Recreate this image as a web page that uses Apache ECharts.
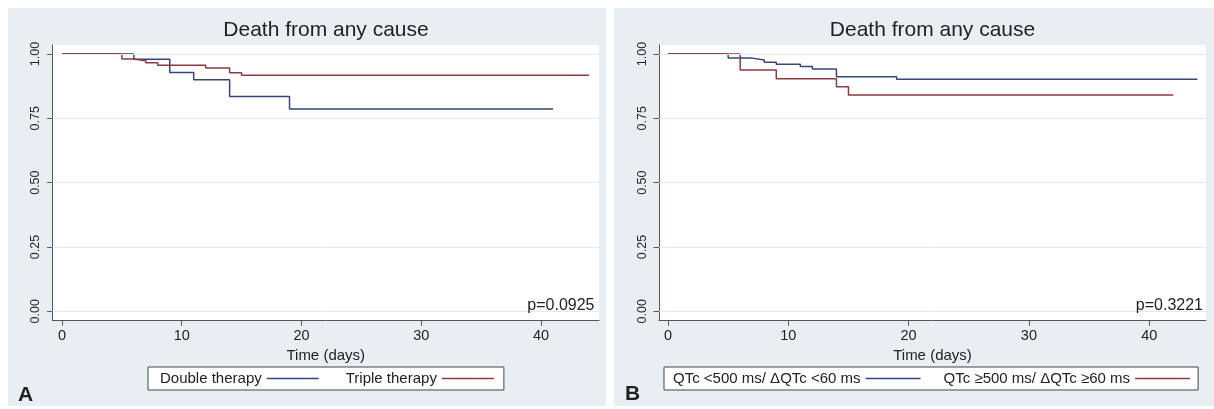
<!DOCTYPE html>
<html>
<head>
<meta charset="utf-8">
<script src="https://cdn.jsdelivr.net/npm/echarts@6/dist/echarts.min.js"></script>
<style>
html,body{margin:0;padding:0;background:#fff;}
#c{width:1214px;height:409px;}
</style>
</head>
<body>
<div id="c"></div>
<script>
// ---- data ----
const panelTitle = 'Death from any cause';
const xTicks = [0, 10, 20, 30, 40];
const yTicks = [0, 0.25, 0.5, 0.75, 1];
const yTickLabels = ['0.00', '0.25', '0.50', '0.75', '1.00'];

// Panel A
const nameA1 = 'Double therapy';
const daysA1 = [0, 6, 9, 11, 14, 19, 41];
const survA1 = [1.000, 0.980, 0.928, 0.900, 0.835, 0.786, 0.786];
const nameA2 = 'Triple therapy';
const daysA2 = [0, 5, 6, 7, 8, 12, 14, 15, 44];
const survA2 = [1.000, 0.981, 0.974, 0.966, 0.956, 0.946, 0.927, 0.917, 0.917];
const pA = 'p=0.0925';

// Panel B
const nameB1 = 'QTc <500 ms/ ΔQTc <60 ms';
const daysB1 = [0, 5, 7, 8, 9, 11, 12, 14, 19, 44];
const survB1 = [1.000, 0.984, 0.977, 0.968, 0.960, 0.951, 0.942, 0.912, 0.902, 0.902];
const nameB2 = 'QTc ≥500 ms/ ΔQTc ≥60 ms';
const daysB2 = [0, 6, 9, 14, 15, 42];
const survB2 = [1.000, 0.938, 0.904, 0.873, 0.841, 0.841];
const pB = 'p=0.3221';

// ---- styling ----
const FONT = '"Liberation Sans", Arial, Helvetica, sans-serif';
const BLUE = '#37457c';
const RED = '#8e3a3f';
const AXIS = '#555';
const GRIDLINE = '#e3eaed';
const PANEL = '#e8eef1';
const TEXT = '#222';

const pairs = (xs, ys) => xs.map((x, i) => [x, ys[i]]);

function xAxisFor(idx, min, max) {
  return {
    type: 'value', gridIndex: idx, min: min, max: max,
    name: 'Time (days)', nameLocation: 'middle', nameGap: 20,
    nameTextStyle: {fontSize: 15, color: TEXT, fontFamily: FONT},
    axisLine: {show: true, onZero: false, lineStyle: {color: AXIS, width: 1}},
    axisTick: {show: true, length: 5, customValues: xTicks, lineStyle: {color: AXIS}},
    axisLabel: {customValues: xTicks, fontSize: 14.5, color: TEXT, fontFamily: FONT, margin: 8},
    splitLine: {show: false}
  };
}
function yAxisFor(idx) {
  return {
    type: 'value', gridIndex: idx, min: -0.0365, max: 1.035,
    axisLine: {show: true, onZero: false, lineStyle: {color: AXIS, width: 1}},
    axisTick: {show: true, length: 5.5, customValues: yTicks, lineStyle: {color: AXIS}},
    axisLabel: {customValues: yTicks, rotate: 90, fontSize: 12.5, color: TEXT, fontFamily: FONT, margin: 10,
      formatter: v => yTickLabels[yTicks.indexOf(Math.round(v * 100) / 100)] ?? ''},
    splitLine: {show: false}
  };
}
function gridLinesSeries(idx) {
  return {
    type: 'line', xAxisIndex: idx, yAxisIndex: idx, data: [], z: 1, silent: true,
    markLine: {silent: true, symbol: 'none', label: {show: false}, animation: false,
      lineStyle: {color: GRIDLINE, width: 1, type: 'solid'},
      emphasis: {disabled: true},
      data: yTicks.map(v => ({yAxis: v}))}
  };
}
function kmSeries(idx, name, xs, ys, color) {
  return {
    type: 'line', name: name, xAxisIndex: idx, yAxisIndex: idx, step: 'end',
    data: pairs(xs, ys), symbol: 'none', showSymbol: false, z: 3,
    lineStyle: {color: color, width: 1.5}, itemStyle: {color: color},
    emphasis: {disabled: true}, animation: false
  };
}
function legendFor(names, left, width, gap, padding) {
  return {
    data: names, left: left, top: 367, orient: 'horizontal', align: 'right',
    icon: 'rect', itemWidth: width, itemHeight: 1.3, itemGap: gap, padding: padding,
    borderColor: '#444', borderWidth: 1, backgroundColor: '#fff', borderRadius: 0,
    selectedMode: false,
    textStyle: {fontSize: 15, color: TEXT, fontFamily: FONT}
  };
}
function txt(text, x, y, size, align, weight) {
  return {type: 'text', x: x, y: y, z: 100, silent: true,
    style: {text: text, fill: TEXT, fontSize: size, fontFamily: FONT, fontWeight: weight || 'normal',
      align: align, textAlign: align, verticalAlign: 'middle', textVerticalAlign: 'middle'}};
}

const chart = echarts.init(document.getElementById('c'), null, {renderer: 'canvas'});
chart.setOption({
  animation: false,
  backgroundColor: '#fff',
  grid: [
    {left: 52.5, right: 1214 - 599, top: 45, bottom: 409 - 320.7, show: true, backgroundColor: '#fff', borderWidth: 0},
    {left: 659, right: 1214 - 1206, top: 45, bottom: 409 - 320.7, show: true, backgroundColor: '#fff', borderWidth: 0}
  ],
  xAxis: [xAxisFor(0, -0.79, 44.84), xAxisFor(1, -0.75, 44.72)],
  yAxis: [yAxisFor(0), yAxisFor(1)],
  legend: [
    legendFor([nameA1, nameA2], 148, 52, 27, [4, 10, 4, 12]),
    legendFor([nameB1, nameB2], 664, 55, 23, [4, 8, 4, 9])
  ],
  series: [
    gridLinesSeries(0),
    gridLinesSeries(1),
    kmSeries(0, nameA1, daysA1, survA1, BLUE),
    kmSeries(0, nameA2, daysA2, survA2, RED),
    kmSeries(1, nameB1, daysB1, survB1, BLUE),
    kmSeries(1, nameB2, daysB2, survB2, RED)
  ],
  graphic: [
    {type: 'rect', z: -10, silent: true, shape: {x: 8, y: 8, width: 598, height: 398}, style: {fill: PANEL}},
    {type: 'rect', z: -10, silent: true, shape: {x: 614, y: 8, width: 600, height: 398}, style: {fill: PANEL}},
    txt(panelTitle, 326, 30.5, 21, 'center'),
    txt(panelTitle, 932.5, 30.5, 21, 'center'),
    txt(pA, 594.5, 306, 16, 'right'),
    txt(pB, 1203, 306, 16, 'right'),
    txt('A', 25.5, 395, 21, 'center', 'bold'),
    txt('B', 632.5, 394, 21, 'center', 'bold')
  ]
});
</script>
</body>
</html>
